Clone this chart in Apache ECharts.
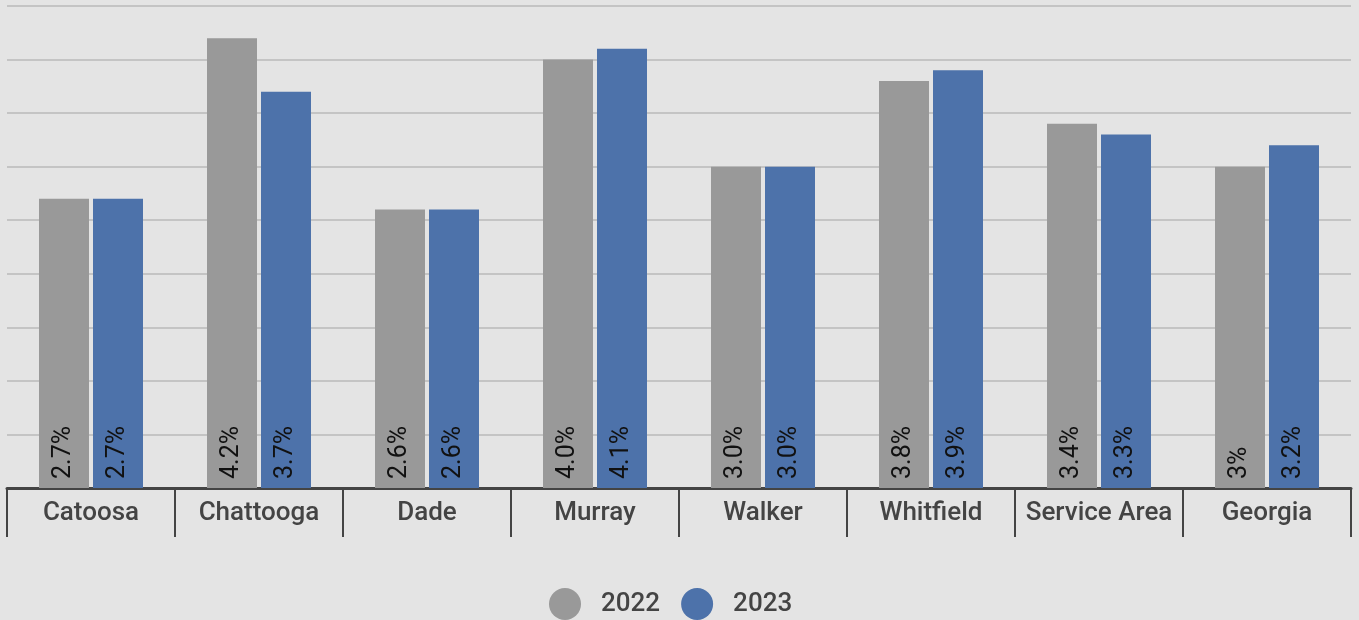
<!DOCTYPE html>
<html><head><meta charset="utf-8">
<script src="https://cdn.jsdelivr.net/npm/echarts@6/dist/echarts.min.js"></script>
<style>html,body{margin:0;padding:0;background:#e4e4e4;}#c{width:1359px;height:620px;}</style>
</head><body><div id="c"></div>
<script>
const categories = ['Catoosa','Chattooga','Dade','Murray','Walker','Whitfield','Service Area','Georgia'];
const values2022 = [2.7, 4.2, 2.6, 4.0, 3.0, 3.8, 3.4, 3.0];
const values2023 = [2.7, 3.7, 2.6, 4.1, 3.0, 3.9, 3.3, 3.2];
const labels2022 = ['2.7%','4.2%','2.6%','4.0%','3.0%','3.8%','3.4%','3%'];
const labels2023 = ['2.7%','3.7%','2.6%','4.1%','3.0%','3.9%','3.3%','3.2%'];
const seriesNames = ['2022','2023'];

const chart = echarts.init(document.getElementById('c'));
function lbl(arr){
  return {show:true, position:'insideBottom', rotate:90, align:'left', verticalAlign:'middle', distance:9,
    color:'#111', fontSize:25, fontFamily:'Roboto', formatter:p=>arr[p.dataIndex]};
}
chart.setOption({
  backgroundColor:'#e4e4e4',
  animation:false,
  grid:{left:7, right:8, top:6, bottom:132},
  legend:{top:588, left:549, padding:0, icon:'circle', itemWidth:32, itemHeight:32, itemGap:21,
    textStyle:{color:'#444', fontSize:26, fontWeight:500, fontFamily:'Roboto', padding:[0,0,0,15]}, data:seriesNames},
  xAxis:{type:'category', data:categories,
    axisLine:{show:true, lineStyle:{color:'#444', width:3}},
    axisTick:{show:true, interval:0, length:49, lineStyle:{color:'#444', width:2}},
    axisLabel:{interval:0, color:'#444', fontSize:26, fontWeight:500, fontFamily:'Roboto', margin:12}},
  yAxis:{type:'value', min:0, max:4.5, interval:0.5, axisLabel:{show:false}, axisLine:{show:false}, axisTick:{show:false},
    splitLine:{lineStyle:{color:'#c4c4c4', width:2}}},
  series:[
    {name:seriesNames[0], type:'bar', data:values2022, barWidth:50, barGap:'8%', itemStyle:{color:'#999999'}, label:lbl(labels2022)},
    {name:seriesNames[1], type:'bar', data:values2023, barWidth:50, itemStyle:{color:'#4d72aa'}, label:lbl(labels2023)}
  ]
});
</script></body></html>
